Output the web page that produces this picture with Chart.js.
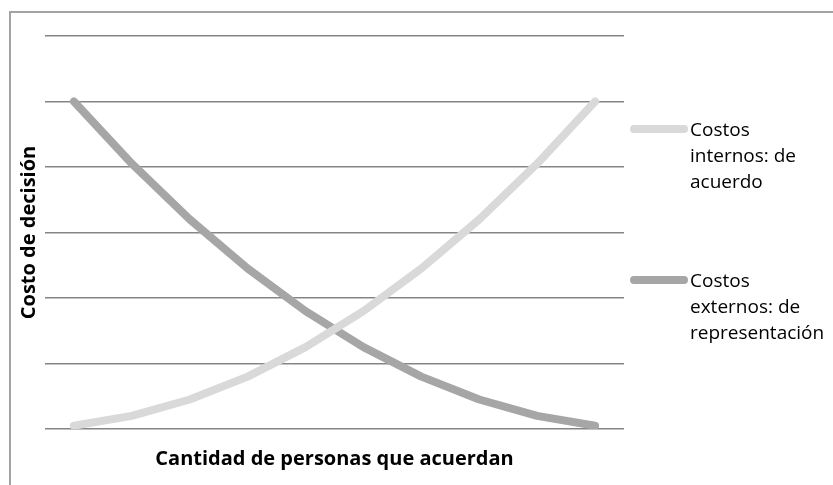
<!DOCTYPE html>
<html>
<head>
<meta charset="utf-8">
<script src="https://cdn.jsdelivr.net/npm/chart.js@4.4.1/dist/chart.umd.min.js"></script>
<style>
  html, body { margin: 0; padding: 0; background: #fff; overflow: hidden; }
  #wrap { position: relative; width: 833px; height: 485px; }
  #frame { position: absolute; left: 9px; top: 11px; width: 900px; height: 600px; border: 2px solid #a3a3a3; box-sizing: border-box; }
  #costChart { position: absolute; left: 0; top: 0; }
</style>
</head>
<body>
<div id="wrap">
  <div id="frame"></div>
  <canvas id="costChart" width="833" height="485"></canvas>
</div>
<script>
// ============================================================
// Costos de decisión según cantidad de personas que acuerdan
// ============================================================

const personas = ['1', '2', '3', '4', '5', '6', '7', '8', '9', '10'];
const costosInternos = [0.5, 2, 4.5, 8, 12.5, 18, 24.5, 32, 40.5, 50];
const costosExternos = [50, 40.5, 32, 24.5, 18, 12.5, 8, 4.5, 2, 0.5];
const serieNombres = [
  ['Costos', 'internos: de', 'acuerdo'],
  ['Costos', 'externos: de', 'representación']
];
const serieColores = ['#d9d9d9', '#a6a6a6'];

const FONT = 'Open Sans';

// Leyenda a la derecha con texto en varias líneas
const sideLegend = {
  id: 'sideLegend',
  afterDraw(chart) {
    const ctx = chart.ctx;
    const rows = [129, 280];
    ctx.save();
    chart.data.datasets.forEach((ds, i) => {
      const y = rows[i];
      ctx.strokeStyle = ds.borderColor;
      ctx.lineWidth = 8;
      ctx.lineCap = 'round';
      ctx.beginPath();
      ctx.moveTo(634, y);
      ctx.lineTo(684, y);
      ctx.stroke();
      ctx.fillStyle = '#000';
      ctx.font = '19px "' + FONT + '"';
      ctx.textBaseline = 'alphabetic';
      ds.label.forEach((line, j) => ctx.fillText(line, 690, y + 7 + j * 26));
    });
    ctx.restore();
  }
};

new Chart(document.getElementById('costChart'), {
  type: 'line',
  data: {
    labels: personas,
    datasets: [
      { label: serieNombres[0], data: costosInternos, borderColor: serieColores[0] },
      { label: serieNombres[1], data: costosExternos, borderColor: serieColores[1] }
    ].map(ds => Object.assign(ds, {
      borderWidth: 8,
      borderCapStyle: 'round',
      borderJoinStyle: 'round',
      pointRadius: 0,
      tension: 0,
      fill: false
    }))
  },
  options: {
    responsive: false,
    animation: false,
    layout: { padding: { left: 17, top: 36, right: 209, bottom: 14 } },
    plugins: { legend: { display: false }, tooltip: { enabled: false } },
    scales: {
      x: {
        offset: true,
        grid: { display: false },
        border: { display: false },
        ticks: { display: false },
        title: {
          display: true,
          text: 'Cantidad de personas que acuerdan',
          color: '#000',
          font: { family: FONT, size: 20, weight: 'bold' },
          padding: { top: 10, bottom: 0 }
        }
      },
      y: {
        min: 0,
        max: 60,
        ticks: { display: false, stepSize: 10 },
        grid: { color: '#858585', lineWidth: 1.5, drawTicks: false },
        border: { display: false },
        title: {
          display: true,
          text: 'Costo de decisión',
          color: '#000',
          font: { family: FONT, size: 20, weight: 'bold' },
          padding: { top: 0, bottom: 4 }
        }
      }
    }
  },
  plugins: [sideLegend]
});
</script>
</body>
</html>
